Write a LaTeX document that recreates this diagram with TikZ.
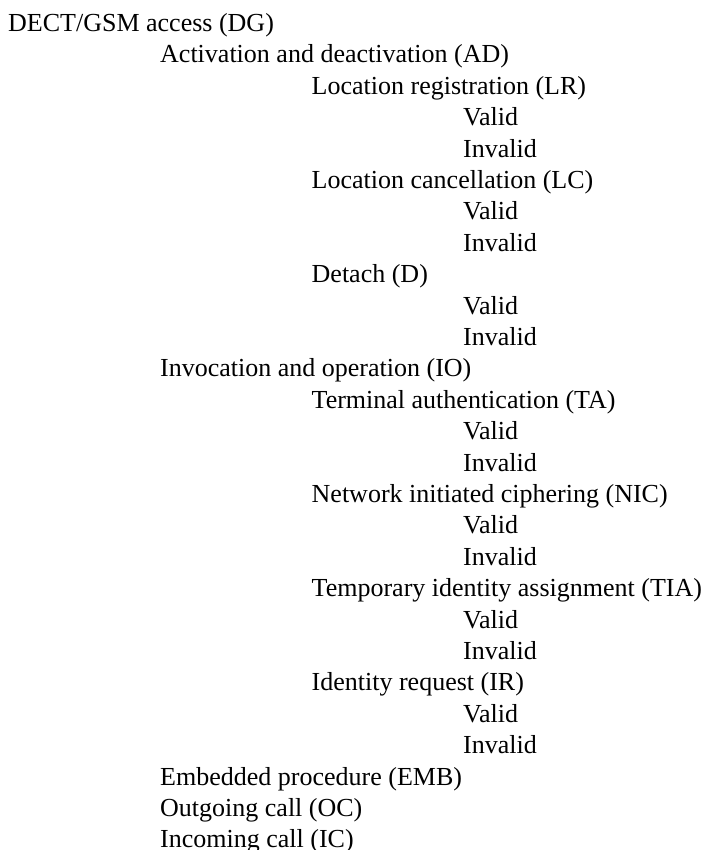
\documentclass[tikz,border=0pt]{standalone}
\usepackage{fontspec}
\setmainfont{Liberation Serif}
\begin{document}
\begin{tikzpicture}[x=1pt,y=-1pt,
  lbl/.style={anchor=base west,inner sep=0pt,font=\fontsize{26}{31}\selectfont}]
\useasboundingbox (0,0) rectangle (712,850);
\node[lbl] (dg) at (8,31.5) {DECT/GSM access (DG)};
\node[lbl] (ad) at (160,62.9) {Activation and deactivation (AD)};
\node[lbl] (lr) at (311.5,94.3) {Location registration (LR)};
\node[lbl] (lrv) at (463,125.7) {Valid};
\node[lbl] (lri) at (463,157.1) {Invalid};
\node[lbl] (lc) at (311.5,188.5) {Location cancellation (LC)};
\node[lbl] (lcv) at (463,219.9) {Valid};
\node[lbl] (lci) at (463,251.3) {Invalid};
\node[lbl] (d) at (311.5,282.7) {Detach (D)};
\node[lbl] (dv) at (463,314.1) {Valid};
\node[lbl] (di) at (463,345.5) {Invalid};
\node[lbl] (io) at (160,376.9) {Invocation and operation (IO)};
\node[lbl] (ta) at (311.5,408.3) {Terminal authentication (TA)};
\node[lbl] (tav) at (463,439.7) {Valid};
\node[lbl] (tai) at (463,471.1) {Invalid};
\node[lbl] (nic) at (311.5,502.5) {Network initiated ciphering (NIC)};
\node[lbl] (nicv) at (463,533.9) {Valid};
\node[lbl] (nici) at (463,565.3) {Invalid};
\node[lbl] (tia) at (311.5,596.7) {Temporary identity assignment (TIA)};
\node[lbl] (tiav) at (463,628.1) {Valid};
\node[lbl] (tiai) at (463,659.5) {Invalid};
\node[lbl] (ir) at (311.5,690.9) {Identity request (IR)};
\node[lbl] (irv) at (463,722.3) {Valid};
\node[lbl] (iri) at (463,753.7) {Invalid};
\node[lbl] (emb) at (160,785.1) {Embedded procedure (EMB)};
\node[lbl] (oc) at (160,816.5) {Outgoing call (OC)};
\node[lbl] (ic) at (160,847.9) {Incoming call (IC)};
\end{tikzpicture}
\end{document}
